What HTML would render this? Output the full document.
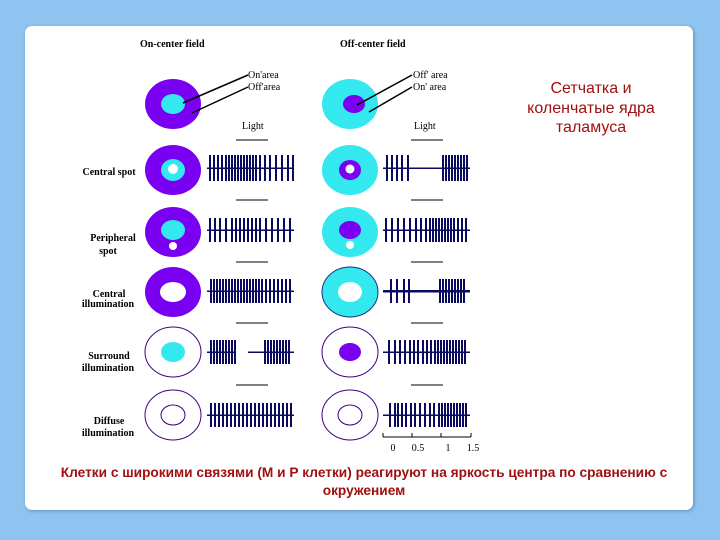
<!DOCTYPE html>
<html><head><meta charset="utf-8"><style>
html,body{margin:0;padding:0;background:#8fc3f0;width:720px;height:540px;overflow:hidden}
.card{position:absolute;left:25px;top:26px;width:668px;height:484px;background:#fff;border-radius:7px;box-shadow:1px 1px 3px rgba(60,90,130,.5)}
svg{position:absolute;left:0;top:0}
.s{font-family:"Liberation Serif",serif;font-size:10px;fill:#000}
.b{font-family:"Liberation Serif",serif;font-size:10px;font-weight:bold;fill:#000}
</style></head><body>
<div class="card"></div>
<svg id="g" width="720" height="540" xmlns="http://www.w3.org/2000/svg">
<text class="b" x="140" y="47">On-center field</text>
<text class="b" x="340" y="47">Off-center field</text>
<text class="s" x="248" y="78">On'area</text>
<text class="s" x="248" y="90">Off'area</text>
<text class="s" x="413" y="78">Off' area</text>
<text class="s" x="413" y="90">On' area</text>
<text class="s" x="242" y="129">Light</text>
<text class="s" x="414" y="129">Light</text>
<g font-family="Liberation Sans, sans-serif" font-size="16" fill="#a01010" text-anchor="middle">
<text x="591" y="93">Сетчатка и</text><text x="591" y="113">коленчатые ядра</text><text x="591" y="132">таламуса</text>
</g>
<g class="b" text-anchor="middle">
<text class="b" x="109" y="175">Central spot</text>
<text class="b" x="113" y="241">Peripheral</text><text class="b" x="108" y="254">spot</text>
<text class="b" x="109" y="297">Central</text><text class="b" x="108" y="307">illumination</text>
<text class="b" x="109" y="359">Surround</text><text class="b" x="108" y="371">illumination</text>
<text class="b" x="109" y="424">Diffuse</text><text class="b" x="108" y="436">illumination</text>
</g>
<g font-family="Liberation Sans, sans-serif" font-size="13.7" font-weight="bold" fill="#a01010" text-anchor="middle">
<text x="364" y="477">Клетки с широкими связями (М и Р клетки) реагируют на яркость центра по сравнению с</text>
<text x="364" y="495">окружением</text>
</g>
<ellipse cx="173" cy="104" rx="28" ry="25" fill="#7a00f2"/><ellipse cx="173" cy="104" rx="12" ry="10" fill="#33e8ef"/>
<ellipse cx="350" cy="104" rx="28" ry="25" fill="#33e8ef"/><ellipse cx="354" cy="104" rx="11" ry="9" fill="#7a00f2"/>
<g stroke="#000" stroke-width="1.5"><line x1="183" y1="103" x2="248" y2="75"/><line x1="192" y1="113" x2="248" y2="87"/><line x1="357" y1="105" x2="412" y2="75"/><line x1="369" y1="112" x2="412" y2="87"/></g>
<ellipse cx="173" cy="170" rx="28" ry="25" fill="#7a00f2"/><ellipse cx="173" cy="170" rx="12" ry="11" fill="#33e8ef"/><circle cx="173" cy="169" r="5" fill="#fff"/>
<ellipse cx="350" cy="170" rx="28" ry="25" fill="#33e8ef"/><ellipse cx="350" cy="170" rx="11" ry="10" fill="#7a00f2"/><circle cx="350" cy="169" r="4.5" fill="#fff"/>
<ellipse cx="173" cy="232" rx="28" ry="25" fill="#7a00f2"/><ellipse cx="173" cy="230" rx="12" ry="10" fill="#33e8ef"/><circle cx="173" cy="246" r="4" fill="#fff"/>
<ellipse cx="350" cy="232" rx="28" ry="25" fill="#33e8ef"/><ellipse cx="350" cy="230" rx="11" ry="9" fill="#7a00f2"/><circle cx="350" cy="245" r="4" fill="#fff"/>
<ellipse cx="173" cy="292" rx="28" ry="25" fill="#7a00f2"/><ellipse cx="173" cy="292" rx="13" ry="10" fill="#fff"/>
<ellipse cx="350" cy="292" rx="28" ry="25" fill="#33e8ef" stroke="#1a3080" stroke-width="1"/><ellipse cx="350" cy="292" rx="12" ry="10" fill="#fff"/>
<ellipse cx="173" cy="352" rx="28" ry="25" fill="#fff" stroke="#400080"/><ellipse cx="173" cy="352" rx="12" ry="10" fill="#33e8ef"/>
<ellipse cx="350" cy="352" rx="28" ry="25" fill="#fff" stroke="#400080"/><ellipse cx="350" cy="352" rx="11" ry="9" fill="#7a00f2"/>
<ellipse cx="173" cy="415" rx="28" ry="25" fill="#fff" stroke="#400080"/><ellipse cx="173" cy="415" rx="12" ry="10" fill="#fff" stroke="#400080"/>
<ellipse cx="350" cy="415" rx="28" ry="25" fill="#fff" stroke="#400080"/><ellipse cx="350" cy="415" rx="12" ry="10" fill="#fff" stroke="#400080"/>
<g stroke="#000" stroke-width="1" shape-rendering="crispEdges">
<line x1="236" y1="140" x2="268" y2="140"/><line x1="411" y1="140" x2="443" y2="140"/>
<line x1="236" y1="200" x2="268" y2="200"/><line x1="411" y1="200" x2="443" y2="200"/>
<line x1="236" y1="262" x2="268" y2="262"/><line x1="411" y1="262" x2="443" y2="262"/>
<line x1="236" y1="323" x2="268" y2="323"/><line x1="411" y1="323" x2="443" y2="323"/>
<line x1="236" y1="385" x2="268" y2="385"/><line x1="411" y1="385" x2="443" y2="385"/>
</g>
<g stroke="#000" stroke-width="1" shape-rendering="crispEdges"><line x1="383" y1="437" x2="471" y2="437"/><line x1="383" y1="433" x2="383" y2="437"/><line x1="412" y1="433" x2="412" y2="437"/><line x1="441" y1="433" x2="441" y2="437"/><line x1="471" y1="433" x2="471" y2="437"/></g>
<g class="s" text-anchor="middle"><text x="393" y="451">0</text><text x="418" y="451">0.5</text><text x="448" y="451">1</text><text x="473" y="451">1.5</text></g>
<g id="spk" stroke="#0a0a60" stroke-width="1.6" fill="none" shape-rendering="crispEdges"></g>
</svg>
<script>
var S=[
[168,13,207,294,[210,214,218,222,226,229,232,235,238,241,244,247,250,253,256,260,265,270,276,282,288,293],null],
[168,13,383,470,[387,392,397,402,408,443,446,449,452,455,458,461,464,467],null],
[230,12,207,294,[210,215,220,226,232,236,240,244,248,252,256,260,266,272,278,284,290],null],
[230,12,383,470,[386,392,398,404,410,416,421,426,430,433,436,439,442,445,448,451,454,458,462,466],null],
[291,12,207,294,[211,214,217,220,223,226,229,232,235,238,241,244,247,250,253,256,259,262,266,270,274,278,282,286,290],null],
[291,12,383,470,[391,397,404,409,440,443,446,449,452,455,458,461,464],2.5],
[352,12,207,236,[211,214,217,220,223,226,229,232,235],null],
[352,12,248,294,[265,268,271,274,277,280,283,286,289],null],
[352,12,383,470,[389,395,400,405,410,414,418,423,427,431,435,438,441,444,447,450,453,456,459,462,465],null],
[415,12,207,294,[211,215,219,223,227,231,235,239,243,247,251,255,259,263,267,271,275,279,283,287,291],null],
[415,12,383,470,[390,395,398,402,406,411,415,420,425,430,434,439,442,445,448,451,454,457,460,463,466],null]];
var d="",g=document.getElementById("spk"),ns="http://www.w3.org/2000/svg";
S.forEach(function(r){var y=r[0],h=r[1];
var b=document.createElementNS(ns,"line");b.setAttribute("x1",r[2]);b.setAttribute("x2",r[3]);b.setAttribute("y1",y);b.setAttribute("y2",y);b.setAttribute("stroke-width",r[5]||1.5);g.appendChild(b);
r[4].forEach(function(x){d+="M"+x+" "+(y-h)+"V"+(y+h);});});
var p=document.createElementNS(ns,"path");p.setAttribute("d",d);g.appendChild(p);
</script>
</body></html>
